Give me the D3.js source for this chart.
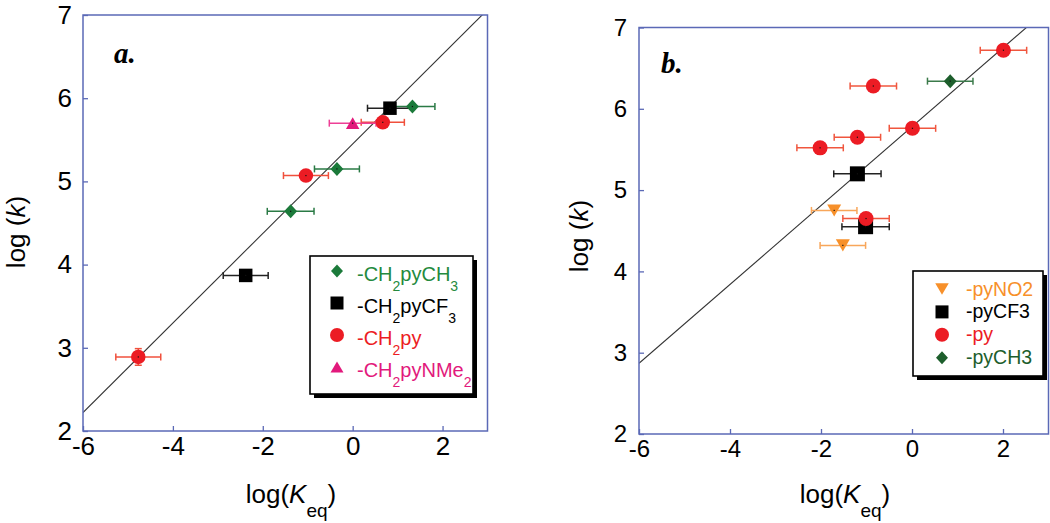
<!DOCTYPE html>
<html lang="en">
<head>
<meta charset="utf-8">
<title>log(k) vs log(Keq)</title>
<script src="https://cdn.jsdelivr.net/npm/d3@7"></script>
<style>
  body { margin: 0; background: #fff; }
  svg { display: block; }
</style>
</head>
<body>
<script>
    // shared axes
    var xDomain = [-6, 3];
    var yDomain = [2, 7];
    var xTickValues = [-6, -4, -2, 0, 2];
    var yTickValues = [2, 3, 4, 5, 6, 7];

    // panel a points: [log Keq, log k, x error, y error]
    var aCH2pyCH3 = [[1.33, 5.90, 0.50], [-0.35, 5.15, 0.50], [-1.38, 4.64, 0.52]];
    var aCH2pyCF3 = [[0.83, 5.88, 0.50], [-2.38, 3.87, 0.50]];
    var aCH2py = [[0.67, 5.71, 0.48], [-1.04, 5.07, 0.50], [-4.77, 2.89, 0.50, 0.10]];
    var aCH2pyNMe2 = [[0.00, 5.70, 0.52]];
    var aFit = [0.538, 5.45]; // slope, intercept

    // panel b points
    var bPyNO2 = [[-1.71, 4.75, 0.50], [-1.52, 4.32, 0.50]];
    var bPyCF3 = [[-1.20, 5.20, 0.52], [-1.02, 4.55, 0.52]];
    var bPy = [[2.01, 6.72, 0.51], [-0.85, 6.28, 0.51], [0.01, 5.76, 0.51],
               [-1.20, 5.65, 0.51], [-2.02, 5.52, 0.51], [-1.01, 4.65, 0.51]];
    var bPyCH3 = [[0.84, 6.34, 0.50]];
    var bFit = [0.485, 5.78];

    // legend labels, odd pieces are subscripts
    var aLabels = [["-CH", "2", "pyCH", "3"], ["-CH", "2", "pyCF", "3"], ["-CH", "2", "py"], ["-CH", "2", "pyNMe", "2"]];
    var bLabels = [["-pyNO2"], ["-pyCF3"], ["-py"], ["-pyCH3"]];

    var sans = "'Liberation Sans', Arial, Helvetica, sans-serif";
    var axisBlue = "#5b69b6";

    var svg = d3.select("body").append("svg")
            .attr("width", 1050)
            .attr("height", 523);

    function shapePath(shape, s) {
        var h = s / 2;
        if (shape === "circle") {
            var p = d3.path();
            p.arc(0, 0, h, 0, 2 * Math.PI);
            return p.toString();
        }
        if (shape === "square") return "M" + (-h) + "," + (-h) + "H" + h + "V" + h + "H" + (-h) + "Z";
        if (shape === "diamond") return "M0," + (-h) + "L" + (h * 0.92) + ",0L0," + h + "L" + (-h * 0.92) + ",0Z";
        var t = s * 0.43;
        if (shape === "up") return "M0," + (-t) + "L" + h + "," + t + "L" + (-h) + "," + t + "Z";
        return "M0," + t + "L" + h + "," + (-t) + "L" + (-h) + "," + (-t) + "Z";
    }

    function drawPanel(p) {
        var x = d3.scaleLinear().domain(xDomain).range([p.left, p.right]);
        var y = d3.scaleLinear().domain(yDomain).range([p.bottom, p.top]);
        var g = svg.append("g");

        var clipId = "clip-" + p.id;
        g.append("clipPath").attr("id", clipId)
                .append("rect")
                .attr("x", p.left).attr("y", p.top)
                .attr("width", p.right - p.left).attr("height", p.bottom - p.top);

        // axes, ticks pointing inwards
        var fmt = function(d) { return String(d); };
        var xa = g.append("g")
                .attr("transform", "translate(0," + p.bottom + ")")
                .call(d3.axisBottom(x).tickValues(xTickValues).tickSize(-5).tickPadding(6).tickFormat(fmt));
        var ya = g.append("g")
                .attr("transform", "translate(" + p.left + ",0)")
                .call(d3.axisLeft(y).tickValues(yTickValues).tickSize(-5).tickPadding(p.yPad).tickFormat(fmt));
        [xa, ya].forEach(function(a) {
            a.select(".domain").remove();
            a.selectAll("line").attr("stroke", axisBlue).attr("stroke-width", 1.3);
            a.selectAll("text")
                    .attr("fill", "#000")
                    .style("font-family", sans)
                    .style("font-size", p.tickSize + "px");
        });

        // fitted line
        g.append("line")
                .attr("clip-path", "url(#" + clipId + ")")
                .attr("x1", x(xDomain[0])).attr("y1", y(p.fit[1] + p.fit[0] * xDomain[0]))
                .attr("x2", x(xDomain[1])).attr("y2", y(p.fit[1] + p.fit[0] * xDomain[1]))
                .attr("stroke", "#333").attr("stroke-width", 1.1);

        // error bars first, markers on top
        p.series.forEach(function(s) {
            var eb = g.append("g").attr("stroke", s.err).attr("stroke-width", 1.5);
            s.data.forEach(function(d) {
                var cx = x(d[0]), cy = y(d[1]);
                var x0 = x(d[0] - d[2]), x1 = x(d[0] + d[2]);
                eb.append("line").attr("x1", x0).attr("x2", x1).attr("y1", cy).attr("y2", cy);
                eb.append("line").attr("x1", x0).attr("x2", x0).attr("y1", cy - 3.5).attr("y2", cy + 3.5);
                eb.append("line").attr("x1", x1).attr("x2", x1).attr("y1", cy - 3.5).attr("y2", cy + 3.5);
                if (d[3]) {
                    var y0 = y(d[1] - d[3]), y1 = y(d[1] + d[3]);
                    eb.append("line").attr("x1", cx).attr("x2", cx).attr("y1", y0).attr("y2", y1);
                    eb.append("line").attr("x1", cx - 3.5).attr("x2", cx + 3.5).attr("y1", y0).attr("y2", y0);
                    eb.append("line").attr("x1", cx - 3.5).attr("x2", cx + 3.5).attr("y1", y1).attr("y2", y1);
                }
            });
        });
        p.series.forEach(function(s) {
            g.selectAll(null)
                    .data(s.data)
                    .enter()
                    .append("path")
                    .attr("d", shapePath(s.shape, s.size))
                    .attr("transform", function(d) { return "translate(" + x(d[0]) + "," + y(d[1]) + ")"; })
                    .attr("fill", s.color);
            g.selectAll(null)
                    .data(s.data)
                    .enter()
                    .append("rect")
                    .attr("x", function(d) { return x(d[0]) - 0.6; })
                    .attr("y", function(d) { return y(d[1]) - 0.6; })
                    .attr("width", 1.2).attr("height", 1.2)
                    .attr("fill", "#111");
        });

        // frame
        g.append("rect")
                .attr("x", p.left).attr("y", p.top)
                .attr("width", p.right - p.left).attr("height", p.bottom - p.top)
                .attr("fill", "none").attr("stroke", axisBlue).attr("stroke-width", 1.5);

        // panel letter
        g.append("text")
                .attr("x", p.letterX).attr("y", p.letterY)
                .style("font-family", "'Liberation Serif', 'Times New Roman', serif")
                .style("font-weight", "bold").style("font-style", "italic")
                .style("font-size", "29px")
                .text(p.letter);

        // axis titles
        var xt = g.append("text")
                .attr("x", p.xTitleX).attr("y", 503)
                .attr("text-anchor", "middle")
                .style("font-family", sans).style("font-size", "26px");
        xt.append("tspan").text("log(");
        xt.append("tspan").style("font-style", "italic").text("K");
        xt.append("tspan").attr("dy", 14).style("font-size", "19px").text("eq");
        xt.append("tspan").attr("dy", -14).text(")");

        var yt = g.append("text")
                .attr("transform", "translate(" + p.yTitleX + "," + p.yTitleY + ") rotate(-90)")
                .attr("text-anchor", "middle")
                .style("font-family", sans).style("font-size", "26px");
        yt.append("tspan").text("log (");
        yt.append("tspan").style("font-style", "italic").text("k");
        yt.append("tspan").text(")");

        // legend
        var L = p.legend;
        g.append("rect")
                .attr("x", L.x + 4).attr("y", L.y + 4).attr("width", L.w).attr("height", L.h)
                .attr("fill", "#000");
        g.append("rect")
                .attr("x", L.x).attr("y", L.y).attr("width", L.w).attr("height", L.h)
                .attr("fill", "#fff").attr("stroke", "#000").attr("stroke-width", 1.6);
        p.series.forEach(function(s, i) {
            var ry = L.row0 + i * L.step;
            g.append("path")
                    .attr("d", shapePath(s.shape, s.legendSize))
                    .attr("transform", "translate(" + L.markerX + "," + ry + ")")
                    .attr("fill", s.color);
            var t = g.append("text")
                    .attr("x", L.textX).attr("y", ry + L.baseOff)
                    .attr("fill", s.text)
                    .style("font-family", sans).style("font-size", L.font + "px");
            var down = false;
            s.label.forEach(function(part, k) {
                var sp = t.append("tspan").text(part);
                if (k % 2 === 1) {
                    sp.attr("dy", 10).style("font-size", "14px");
                    down = true;
                } else if (down) {
                    sp.attr("dy", -10);
                    down = false;
                }
            });
        });
    }

    drawPanel({
        id: "a", left: 83, right: 487.5, top: 15, bottom: 431,
        tickSize: 26, yPad: 11, fit: aFit,
        letter: "a.", letterX: 114, letterY: 63,
        xTitleX: 291, yTitleX: 25, yTitleY: 232,
        series: [
            { data: aCH2pyCH3, shape: "diamond", size: 14, legendSize: 13, color: "#1b7a3a", err: "#2a7a45", text: "#248a3e", label: aLabels[0] },
            { data: aCH2pyCF3, shape: "square", size: 13.5, legendSize: 13, color: "#000", err: "#222", text: "#000", label: aLabels[1] },
            { data: aCH2py, shape: "circle", size: 14.5, legendSize: 14, color: "#ec1c24", err: "#f0503c", text: "#ec1c24", label: aLabels[2] },
            { data: aCH2pyNMe2, shape: "up", size: 13.5, legendSize: 13, color: "#e2197c", err: "#ee3f96", text: "#e2197c", label: aLabels[3] }
        ],
        legend: { x: 310, y: 256, w: 163, h: 138, markerX: 337, textX: 357, row0: 271, step: 32, baseOff: 10, font: 20 }
    });

    drawPanel({
        id: "b", left: 639, right: 1048.5, top: 27.5, bottom: 434,
        tickSize: 24, yPad: 12, fit: bFit,
        letter: "b.", letterX: 661, letterY: 73,
        xTitleX: 845, yTitleX: 588, yTitleY: 236,
        series: [
            { data: bPyNO2, shape: "down", size: 14, legendSize: 13.5, color: "#f7902a", err: "#f8a65a", text: "#f7902a", label: bLabels[0] },
            { data: bPyCF3, shape: "square", size: 15, legendSize: 13, color: "#000", err: "#222", text: "#000", label: bLabels[1] },
            { data: bPy, shape: "circle", size: 15, legendSize: 14, color: "#ec1c24", err: "#f0563e", text: "#ec1c24", label: bLabels[2] },
            { data: bPyCH3, shape: "diamond", size: 14, legendSize: 13, color: "#1d5e2c", err: "#3b7a4a", text: "#1d5e2c", label: bLabels[3] }
        ],
        legend: { x: 913, y: 271, w: 130, h: 105, markerX: 942, textX: 966, row0: 289, step: 22.9, baseOff: 6.5, font: 19.5 }
    });
</script>
</body>
</html>
